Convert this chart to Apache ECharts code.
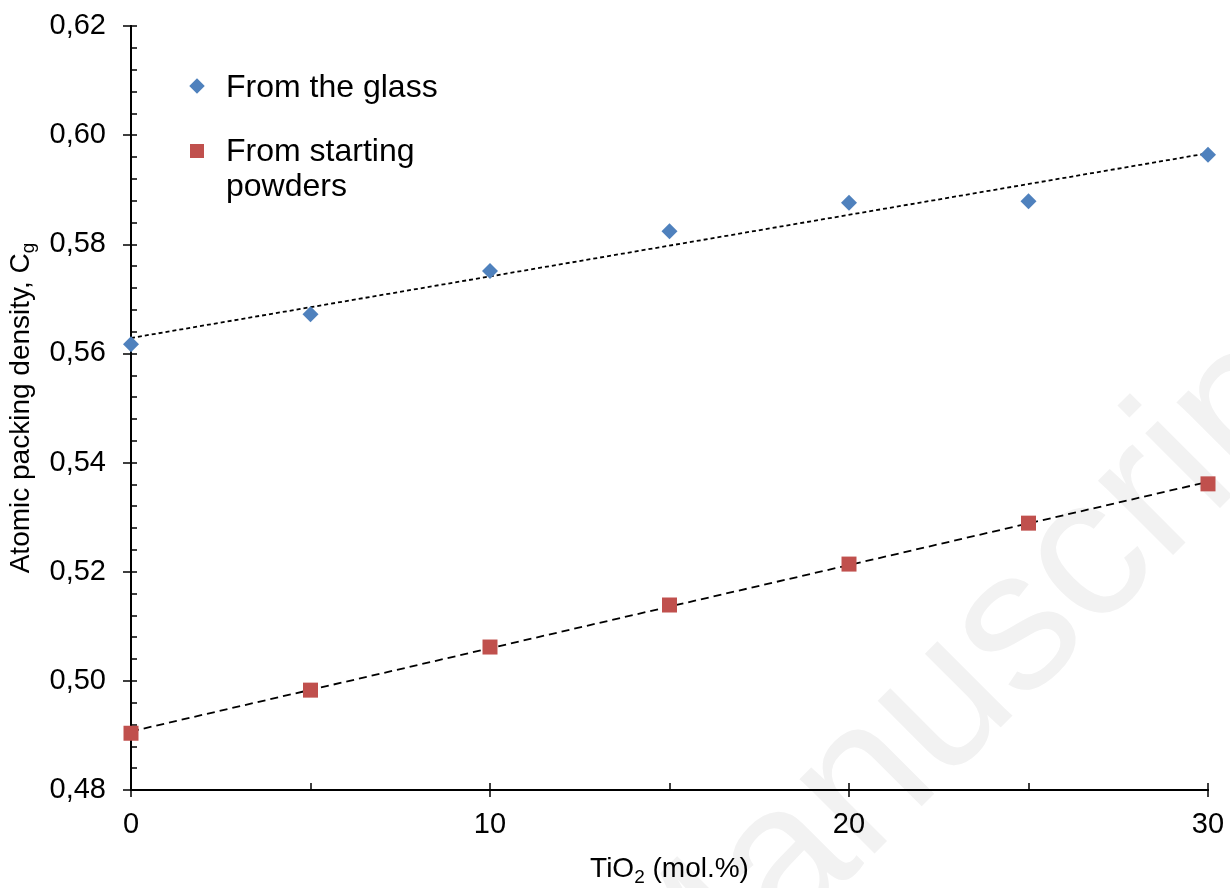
<!DOCTYPE html>
<html><head><meta charset="utf-8">
<script src="https://cdn.jsdelivr.net/npm/echarts@6/dist/echarts.min.js"></script>
<style>html,body{margin:0;padding:0;background:#fff}#c{width:1230px;height:888px}</style>
</head><body><div id="c"></div>
<script>
var xValues = [0, 5, 10, 15, 20, 25, 30];
var glassValues = [0.5617, 0.5672, 0.5751, 0.5824, 0.5876, 0.5879, 0.5964];
var powderValues = [0.4904, 0.4983, 0.5062, 0.5139, 0.5214, 0.5289, 0.5361];
var yTicks = {min: 0.48, max: 0.62, interval: 0.02};
var xTicks = {min: 0, max: 30, interval: 10};
var legendNames = ['From the glass', 'From starting\npowders'];

function fit(xs, ys) {
  var n = xs.length, mx = 0, my = 0;
  for (var i = 0; i < n; i++) { mx += xs[i]; my += ys[i]; }
  mx /= n; my /= n;
  var sxy = 0, sxx = 0;
  for (var i = 0; i < n; i++) { sxy += (xs[i]-mx)*(ys[i]-my); sxx += (xs[i]-mx)*(xs[i]-mx); }
  var b = sxy / sxx, a = my - b*mx;
  return [[xTicks.min, a + b*xTicks.min], [xTicks.max, a + b*xTicks.max]];
}
function pairs(xs, ys){ return xs.map(function(x,i){return [x, ys[i]];}); }

var font = 'Liberation Sans, Arial, sans-serif';
var chart = echarts.init(document.getElementById('c'));
var axisLine = {show: true, onZero: false, lineStyle: {color: '#000', width: 2}};
chart.setOption({
  animation: false,
  backgroundColor: '#fff',
  grid: {left: 131, right: 22, top: 26, bottom: 98, containLabel: false, outerBoundsMode: 'none'},
  xAxis: [
    {type: 'value', min: xTicks.min, max: xTicks.max, interval: xTicks.interval,
     axisLine: axisLine, splitLine: {show: false},
     axisTick: {show: true, inside: false, length: 7, lineStyle: {color: '#000', width: 1.5}},
     axisLabel: {color: '#000', fontSize: 29, fontFamily: font, margin: 20},
     name: '{a|TiO}{s|2}{a| (mol.%)}', nameLocation: 'middle', nameGap: 62,
     nameTextStyle: {rich: {a: {fontSize: 28, fontFamily: font, color: '#000'},
                            s: {fontSize: 19, fontFamily: font, color: '#000', verticalAlign: 'bottom', padding: [16,0,0,0]}}}},
    {type: 'value', min: xTicks.min, max: xTicks.max, interval: xTicks.interval, position: 'bottom',
     axisLine: axisLine, splitLine: {show: false}, axisLabel: {show: false},
     axisTick: {show: true, inside: true, length: 7, lineStyle: {color: '#000', width: 1.5}},
     minorTick: {show: true, splitNumber: 2, length: 7, lineStyle: {color: '#000', width: 1.5}}}
  ],
  yAxis: [
    {type: 'value', min: yTicks.min, max: yTicks.max, interval: yTicks.interval, position: 'left',
     axisLine: axisLine, splitLine: {show: false},
     axisTick: {show: true, inside: false, length: 8, lineStyle: {color: '#000', width: 1.5}},
     axisLabel: {color: '#000', fontSize: 29, fontFamily: font, margin: 25,
                 formatter: function(v){ return v.toFixed(2).replace('.', ','); }},
     name: '{a|Atomic packing density, C}{s|g}', nameLocation: 'middle', nameGap: 86,
     nameTextStyle: {rich: {a: {fontSize: 28, fontFamily: font, color: '#000'},
                            s: {fontSize: 19, fontFamily: font, color: '#000', verticalAlign: 'bottom', padding: [16,0,0,0]}}}},
    {type: 'value', min: yTicks.min, max: yTicks.max, interval: yTicks.interval, position: 'left', offset: 0,
     axisLine: axisLine, splitLine: {show: false}, axisLabel: {show: false},
     axisTick: {show: true, inside: true, length: 6, lineStyle: {color: '#000', width: 1.5}},
     minorTick: {show: true, splitNumber: 5, length: 6, lineStyle: {color: '#000', width: 1.5}}}
  ],
  graphic: [
    {type: 'text', z: -10, rotation: Math.PI/4, x: 975, y: 675,
     style: {text: 'Manuscript', align: 'center', verticalAlign: 'middle',
             font: '200px ' + font, fill: '#f2f2f2'}},
    {type: 'rect', shape: {x: -5.5, y: -5.5, width: 11, height: 11}, x: 197, y: 86, rotation: Math.PI/4,
     style: {fill: '#4f81bd'}, z: 10},
    {type: 'text', x: 226, y: 88, style: {text: legendNames[0], font: '32px ' + font, fill: '#000', verticalAlign: 'middle'}, z: 10},
    {type: 'rect', shape: {x: -7, y: -7, width: 14, height: 14}, x: 197, y: 151,
     style: {fill: '#c0504d'}, z: 10},
    {type: 'text', x: 226, y: 135, style: {text: legendNames[1], font: '32px ' + font, lineHeight: 35, fill: '#000', verticalAlign: 'top'}, z: 10}
  ],
  series: [
    {type: 'line', data: fit(xValues, glassValues), symbol: 'none', silent: true,
     lineStyle: {color: '#000', width: 1.8, type: [4, 3]}, z: 2},
    {type: 'line', data: fit(xValues, powderValues), symbol: 'none', silent: true,
     lineStyle: {color: '#000', width: 1.8, type: [8, 5]}, z: 2},
    {type: 'scatter', name: 'From the glass', data: pairs(xValues, glassValues), symbol: 'diamond', symbolSize: [16, 16],
     itemStyle: {color: '#4f81bd', opacity: 1}, z: 3, clip: false},
    {type: 'scatter', name: 'From starting powders', data: pairs(xValues, powderValues), symbol: 'rect', symbolSize: 15,
     itemStyle: {color: '#c0504d', opacity: 1}, z: 3, clip: false}
  ]
});
</script></body></html>
